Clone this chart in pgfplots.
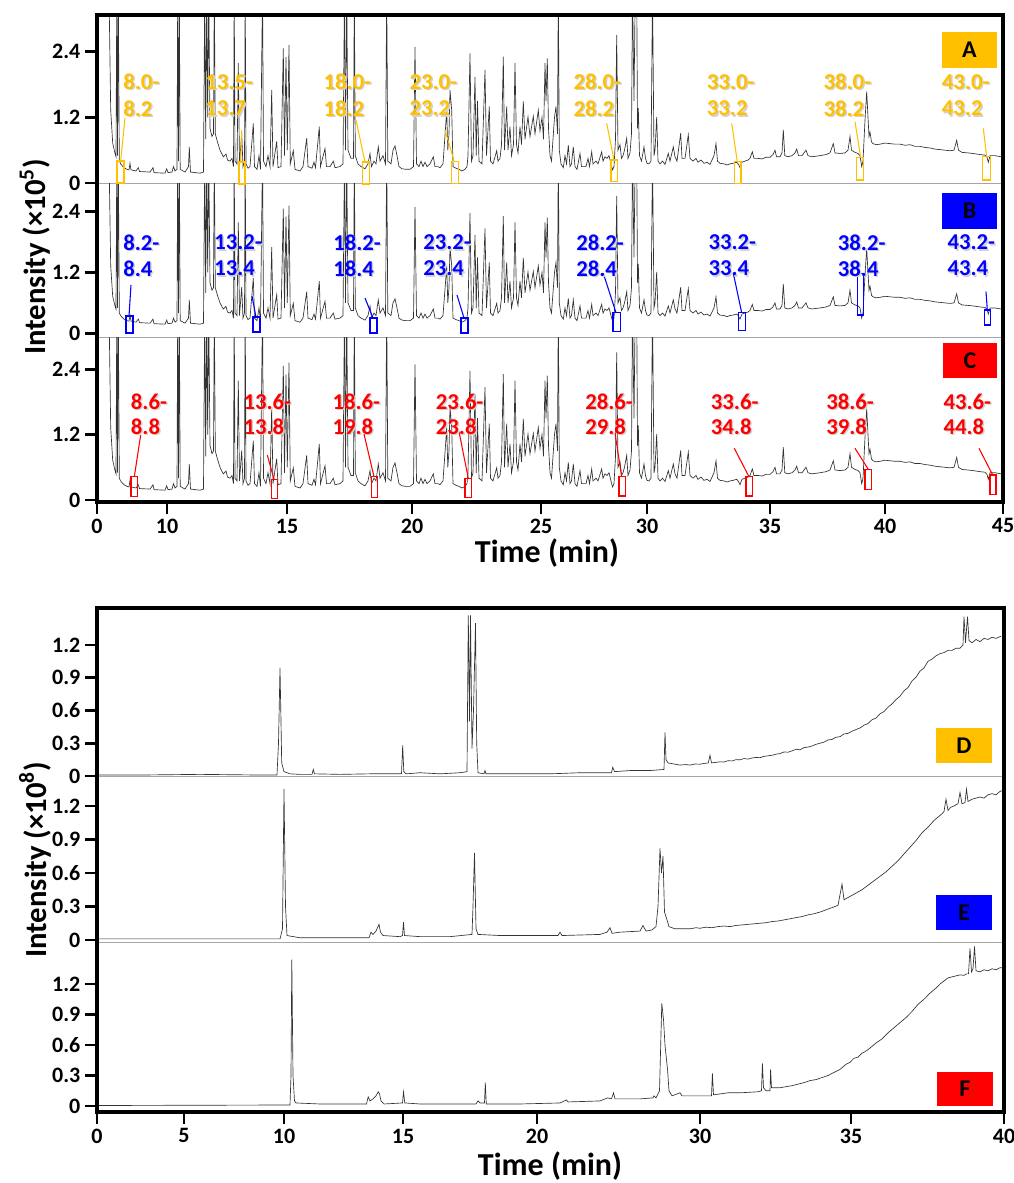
\documentclass[border=0pt]{standalone}
\usepackage{pgfplots}
\pgfplotsset{compat=1.18}
\usepackage{pgfplotstable}
\usepackage{fontspec}
\setmainfont{Carlito}
\definecolor{gold}{RGB}{255,192,0}
\definecolor{pblue}{RGB}{0,0,255}
\definecolor{pred}{RGB}{255,0,0}

\pgfplotstableread{
x y
109 3.5
110.7 1.33
112.7 0.73
115 0.54
116 0.48
116.8 3.5
117.5 0.5
118.3 3.5
119.3 0.40
121 0.34
124 0.28
127 0.25
129 0.24
130 0.36
131 0.24
136 0.22
138.3 0.28
139.5 0.21
150 0.20
153 0.28
154 0.19
165 0.18
166.7 0.26
168 0.19
172 0.2
173.5 0.30
175 0.22
177 0.25
177.7 3.5
178.5 0.4
179.3 3.5
180.2 0.25
185 0.2
188.5 0.3
189.3 0.66
190.5 0.2
200 0.18
203.5 0.2
204.7 3.5
205.7 0.8
206.7 3.5
207.7 1.2
208.7 3.5
210 1.0
212 0.85
213.5 0.9
214.3 3.5
215.3 0.9
217 0.78
220 0.6
223.3 0.48
226 0.53
227.5 0.42
230 0.40
232 0.45
233.5 0.3
234.2 3.5
235 0.4
237 0.35
238.3 2.19
239.5 0.35
241.7 0.91
243 0.3
244.5 0.4
245.2 3.5
246 0.35
248 0.27
250 0.3
253.3 1.09
254.5 0.3
257 0.25
259 0.5
260.5 0.25
262.5 3.5
263.5 0.4
266 0.3
268 0.5
270 0.3
271.7 1.70
273 0.3
276.7 0.76
278 0.28
281 0.3
283.3 2.46
284.5 0.5
286 2.3
287.3 0.6
289 2.52
290.3 0.35
293.3 0.59
295 0.25
300 0.22
303 0.3
306.7 0.82
308 0.3
312 0.27
314 0.38
315.5 0.28
319.3 1.03
320.5 0.3
325 0.63
326.5 0.3
330 0.3
333.3 0.40
335 0.28
340 0.3
343 0.35
344.5 3.5
345.5 0.6
346.7 3.5
348 0.6
351 0.45
353.5 0.45
354.3 3.5
355.3 0.5
358 0.35
361 0.3
365 0.26
368 0.35
370 0.54
371.5 0.3
374 0.4
376 0.35
378.3 0.66
380 0.4
383 0.5
385.5 0.35
386.7 3.5
387.8 0.4
391 0.35
393 0.6
395 0.68
397 0.5
399 0.3
402 0.26
406 0.25
410 0.25
413.5 0.3
415 2.49
416.5 0.35
419 0.30
421 0.4
423 0.3
425 0.38
427 0.3
430 0.35
433.3 0.48
435 0.3
438 0.3
440 0.28
443 0.35
445.5 1.0
446.7 1.33
447.8 0.6
449 0.9
450 1.70
451.7 1.33
453 0.3
456 0.27
459 0.25
462 0.22
465 0.25
467 0.3
468 0.5
470 2.37
471.5 0.4
473 0.5
475 1.94
476.2 0.5
477.5 1.5
479 0.4
482 0.35
485 2.07
486.5 0.5
489.3 1.40
490.5 0.4
493 0.35
496.7 0.59
498 0.4
500 0.45
501.5 0.7
503.3 2.31
504.5 0.6
506.7 1.40
508 0.6
510 1.03
511.5 0.5
513.5 0.7
515 2.19
516.5 0.7
518 0.55
520 1.03
521.5 0.7
523.3 1.49
525 0.8
528 1.21
530 0.85
533.3 1.22
535 0.9
538.3 1.33
540 0.95
542 1.2
543.5 0.8
545 2.19
546 1.5
547.3 2.28
548.5 1.0
550 0.5
551.5 0.4
553 0.8
554.5 1.2
556 1.40
557.5 0.9
558.3 3.5
559.3 0.6
561 0.35
563.3 0.28
565 0.5
566.5 0.35
568.3 0.69
570 0.3
571.5 0.35
573.3 0.66
575 0.3
577 0.25
580 0.54
581.5 0.3
584 0.3
586 0.3
588 0.45
589.5 0.3
591.7 0.57
593 0.35
596 0.4
598 0.35
601.7 0.57
603 0.4
605 0.48
607 0.45
609 0.5
611 0.35
612.5 0.24
614 0.3
615.5 0.8
616.7 2.71
618 0.6
620 0.7
621.5 0.45
623 0.5
624.5 0.6
626.7 0.82
628 0.45
630 0.55
631.5 0.9
632.5 3.5
634 1.5
635.2 3.5
636.7 3.5
637.5 1.0
638.3 1.37
639.5 0.5
641.5 0.4
644 0.66
645.5 0.45
647 0.36
649 0.35
651 0.4
652.5 3.5
654 0.5
655 0.6
656.7 1.21
658 0.4
660 0.35
662.5 0.40
665 0.34
668.3 0.54
670 0.4
673.3 0.66
675 0.48
677 0.4
680.7 0.91
682 0.45
685 0.45
688.3 0.88
690 0.45
693 0.4
696 0.45
698 0.38
701 0.42
704 0.36
707 0.38
710 0.34
712 0.42
714 0.5
716 0.72
717.5 0.4
720 0.36
724 0.35
727 0.33
730 0.35
733 0.36
736.7 0.38
738.5 0.34
740 0.28
742 0.38
745 0.4
748 0.42
750 0.45
752.3 0.57
754 0.45
758 0.45
762 0.44
766 0.47
770 0.47
773 0.52
775 0.6
776.5 0.48
780 0.48
782 0.55
783.3 0.97
784.8 0.5
788 0.48
792 0.5
795 0.55
796.7 0.62
798.5 0.5
802 0.5
806 0.6
808 0.5
812 0.48
820 0.5
826 0.52
830 0.55
833.3 0.72
835 0.55
840 0.54
845 0.55
848 0.6
850 0.85
851.5 0.6
855 0.56
858 0.54
860 0.5
861.7 0.30
863 0.4
865 1.15
866.7 1.67
868 1.2
869 0.85
870 0.93
871.5 0.75
873 0.72
876 0.7
880 0.71
885 0.73
890 0.72
895 0.71
900 0.71
905 0.69
910 0.70
915 0.67
920 0.67
925 0.65
930 0.64
935 0.62
940 0.61
945 0.60
950 0.59
954 0.6
956.7 0.78
958.5 0.6
962 0.56
968 0.55
973 0.54
980 0.52
985 0.51
987 0.47
988.3 0.38
990 0.5
995 0.5
1001 0.48
}\toptrace

\pgfplotstableread{
x y
97 0.01
150 0.01
200 0.015
250 0.01
277 0.01
278.5 0.3
280 0.99
281 0.5
281.7 0.12
284 0.04
290 0.02
300 0.015
312 0.015
313.3 0.06
314.5 0.02
340 0.015
370 0.02
401.5 0.02
402.7 0.28
403.8 0.04
406 0.02
420 0.03
440 0.02
460 0.03
467 0.04
468.3 1.47
469.5 0.5
470.5 1.47
472 0.25
473.5 0.6
475.5 1.40
476.7 0.3
478 0.03
484 0.02
485 0.05
486 0.02
520 0.02
550 0.02
580 0.03
600 0.03
611.5 0.03
612.7 0.08
614.5 0.04
630 0.05
650 0.05
664 0.06
665 0.40
666 0.15
668 0.12
680 0.10
686 0.105
690 0.10
695 0.11
700 0.108
704 0.115
708.3 0.12
710 0.19
711.5 0.12
716 0.125
720 0.13
724 0.128
728 0.14
732 0.138
736 0.15
740 0.148
744 0.16
748 0.155
752 0.165
756 0.17
760 0.168
764 0.18
768 0.185
772 0.19
776 0.2
780 0.205
784 0.22
788 0.218
792 0.23
796 0.245
800 0.24
804 0.26
808 0.265
812 0.275
816 0.29
820 0.30
824 0.31
828 0.33
832 0.335
836 0.355
840 0.36
844 0.385
848 0.39
852 0.41
856 0.425
860 0.44
864 0.465
868 0.48
872 0.515
876 0.53
880 0.57
884 0.59
888 0.63
892 0.66
896 0.70
900 0.73
904 0.78
908 0.81
912 0.87
916 0.905
920 0.96
924 0.99
928 1.05
932 1.07
936 1.10
940 1.12
944 1.13
948 1.15
952 1.15
956 1.17
960 1.17
963 1.2
964 1.46
965.5 1.22
967.5 1.46
969 1.24
972 1.22
976 1.25
980 1.23
984 1.26
988 1.25
992 1.27
996 1.26
1001 1.28
}\dtrace

\pgfplotstableread{
x y
97 0.01
280 0.01
282.5 0.1
284 1.35
285.5 0.3
287 0.04
300 0.02
340 0.02
369 0.02
371 0.07
373 0.05
376 0.08
379 0.14
380.5 0.07
383 0.04
400 0.03
402.5 0.04
403.5 0.16
404.5 0.04
420 0.03
450 0.03
472 0.05
473 0.3
474.5 0.78
476 0.1
478 0.05
500 0.04
530 0.04
558 0.04
560 0.07
562 0.04
600 0.05
607 0.07
610 0.11
612 0.06
620 0.07
640 0.08
643 0.13
646 0.08
652 0.09
656 0.12
658 0.3
660 0.82
661.5 0.6
663 0.75
664.5 0.25
667 0.18
669 0.12
675 0.10
690 0.10
696 0.11
700 0.105
706 0.115
712 0.11
718 0.12
724 0.125
730 0.12
736 0.13
742 0.135
748 0.14
754 0.145
760 0.15
766 0.155
772 0.165
778 0.17
784 0.18
790 0.19
796 0.2
802 0.21
808 0.225
814 0.235
820 0.25
826 0.27
832 0.29
838 0.31
842 0.5
844 0.36
850 0.39
856 0.42
862 0.45
868 0.49
874 0.53
880 0.57
886 0.61
892 0.66
898 0.71
904 0.77
910 0.83
916 0.89
922 0.96
928 1.01
934 1.07
938 1.1
942 1.13
944 1.15
946 1.26
948 1.16
951 1.19
954 1.2
958 1.22
960 1.32
962 1.22
965 1.23
966.5 1.35
968 1.24
972 1.26
976 1.27
980 1.28
984 1.27
988 1.3
992 1.31
996 1.30
1000 1.33
1003 1.34
}\etrace

\pgfplotstableread{
x y
97 0.005
290 0.01
291 0.3
291.8 1.44
293 0.3
294.5 0.05
296 0.03
320 0.02
366.5 0.02
368.2 0.09
370 0.05
373 0.07
376 0.1
378.2 0.14
379.5 0.12
381 0.05
384 0.02
402.5 0.03
403.5 0.14
404.8 0.03
420 0.02
440 0.02
476 0.02
478 0.05
480 0.03
484.5 0.03
485.3 0.23
486.3 0.02
520 0.02
560 0.03
566.5 0.06
568 0.04
600 0.05
607.6 0.08
611.5 0.07
613.5 0.13
615 0.07
640 0.07
653 0.08
654 0.1
656 0.08
659.5 0.15
661.8 1.01
663.5 0.85
665 0.6
667.6 0.35
669 0.15
672 0.1
680 0.13
682 0.1
700 0.1
711.5 0.1
712.4 0.32
713.5 0.11
728 0.13
740 0.13
758 0.14
761.5 0.15
762.4 0.42
763.5 0.18
766 0.15
770 0.15
770.6 0.36
771.5 0.18
780 0.18
786 0.19
792 0.2
798 0.215
804 0.23
810 0.25
816 0.26
822 0.28
828 0.30
834 0.33
840 0.36
846 0.41
850 0.43
854 0.47
858 0.48
862 0.52
866 0.54
870 0.57
876 0.62
882 0.66
888 0.72
894 0.77
900 0.82
906 0.87
912 0.93
918 1.0
924 1.05
930 1.11
936 1.16
940 1.2
944 1.23
948 1.26
952 1.27
956 1.28
960 1.29
964 1.285
966.5 1.30
968.5 1.3
970 1.55
971.5 1.32
973 1.35
974.5 1.57
976 1.33
980 1.32
984 1.34
988 1.33
992 1.35
996 1.34
1000 1.36
1003 1.36
}\ftrace

\pgfplotsset{
  panel/.style={
    scale only axis,
    axis line style={draw=gray!70, line width=0.6pt},
    tick align=outside,
    major tick length=9pt,
    tick style={line width=2pt, black},
    tick pos=left,
    tick label style={font=\fontsize{16.5}{18}\selectfont\bfseries},
    xtick=\empty,
  },
  toppanel/.style={panel, width=679.5pt, xmin=97, xmax=1003,
    ytick={0,1.2,2.4}, yticklabels={0,1.2,2.4}},
  botpanel/.style={panel, width=680.25pt, xmin=97, xmax=1004,
    ytick={0,0.3,0.6,0.9,1.2}, yticklabels={0,0.3,0.6,0.9,1.2}},
  trace/.style={line width=0.5pt, black!80, no markers},
}

\newcommand{\lab}[6]{%
  \node[anchor=west, inner sep=0, text=gray!35, font=\fontsize{17}{20}\selectfont\bfseries] at (#2+1.5,#3+1.5) {#5};
  \node[anchor=west, inner sep=0, text=gray!35, font=\fontsize{17}{20}\selectfont\bfseries] at (#2+1.5,#4+1.5) {#6};
  \node[anchor=west, inner sep=0, text=#1, font=\fontsize{17}{20}\selectfont\bfseries] at (#2,#3) {#5};
  \node[anchor=west, inner sep=0, text=#1, font=\fontsize{17}{20}\selectfont\bfseries] at (#2,#4) {#6};
}

\begin{document}
\begin{tikzpicture}
\useasboundingbox (0,0) rectangle (760.5pt,-887.25pt);

% ---------- top chart ----------
\begin{axis}[toppanel, at={(72.75pt,-137.25pt)}, anchor=south west,
  height=126pt, ymin=0, ymax=3.071]
\addplot[trace] table {\toptrace};
\end{axis}
\begin{axis}[toppanel, at={(72.75pt,-252.75pt)}, anchor=south west,
  height=115.5pt, ymin=-0.073, ymax=2.965]
\addplot[trace] table {\toptrace};
\end{axis}
\begin{axis}[toppanel, at={(72.75pt,-376.5pt)}, anchor=south west,
  height=123.75pt, ymin=-0.037, ymax=2.991,
  xtick={97,167,287,412,541,647,770,885,1003},
  xticklabels={0,10,15,20,25,30,35,40,45}]
\addplot[trace] table {\toptrace};
\end{axis}

% ---------- bottom chart ----------
\begin{axis}[botpanel, at={(72.75pt,-582pt)}, anchor=south west,
  height=126pt, ymin=0, ymax=1.538]
\addplot[trace] table {\dtrace};
\end{axis}
\begin{axis}[botpanel, at={(72.75pt,-706.5pt)}, anchor=south west,
  height=124.5pt, ymin=-0.018, ymax=1.468]
\addplot[trace] table {\etrace};
\end{axis}
\begin{axis}[botpanel, at={(72.75pt,-834pt)}, anchor=south west,
  height=127.5pt, ymin=-0.059, ymax=1.613,
  xtick={97,184,284,403,537,700,851,1004},
  xticklabels={0,5,10,15,20,30,35,40}]
\addplot[trace] table {\ftrace};
\end{axis}

\begin{scope}[x=0.75pt, y=-0.75pt]
% frames
\draw[line width=2.4pt] (97,15) rectangle (1003,502);
\draw[line width=2.4pt] (97,608) rectangle (1004,1112);

% axis titles
\node[rotate=90, font=\fontsize{23}{26}\selectfont\bfseries] at (35,257) {Intensity (×10\textsuperscript{5})};
\node[rotate=90, font=\fontsize{23}{26}\selectfont\bfseries] at (35,860) {Intensity (×10\textsuperscript{8})};
\node[font=\fontsize{24}{27}\selectfont\bfseries] at (547,553) {Time (min)};
\node[font=\fontsize{24}{27}\selectfont\bfseries] at (550,1166) {Time (min)};

% panel letter boxes
\fill[gold] (942,32) rectangle (997,68);
\node[font=\fontsize{18}{20}\selectfont\bfseries] at (969.5,50) {A};
\fill[pblue] (942,193) rectangle (997,229);
\node[font=\fontsize{18}{20}\selectfont\bfseries] at (969.5,211) {B};
\fill[pred] (943,343) rectangle (997,378);
\node[font=\fontsize{18}{20}\selectfont\bfseries] at (970,360.5) {C};
\fill[gold] (936,728) rectangle (992,763);
\node[font=\fontsize{18}{20}\selectfont\bfseries] at (964,745.5) {D};
\fill[pblue] (936,895) rectangle (992,930);
\node[font=\fontsize{18}{20}\selectfont\bfseries] at (964,912.5) {E};
\fill[pred] (937,1072) rectangle (993,1106);
\node[font=\fontsize{18}{20}\selectfont\bfseries] at (965,1089) {F};

% ---- panel A annotations ----
\begin{scope}[draw=gold, line width=0.8pt]
\draw (117,161) rectangle (124,183);
\draw (239,162) rectangle (245,184);
\draw (362.7,162) rectangle (369.3,184);
\draw (451.7,161.7) rectangle (458.3,183.3);
\draw (611,160) rectangle (617.7,181.7);
\draw (734.3,161.7) rectangle (741,183.3);
\draw (856.7,157.7) rectangle (863.3,180);
\draw (982.7,156.7) rectangle (990.7,180);
\draw (125,118) -- (120.7,161);
\draw (241.7,130) -- (240.7,162);
\draw (356,120) -- (365,162);
\draw (445,130) -- (454.3,161.7);
\draw (606.7,123.3) -- (614,160);
\draw (731.7,123.3) -- (737.3,161.7);
\draw (855,121.7) -- (860.7,157.7);
\draw (983.3,128.3) -- (986.7,156.7);
\end{scope}
\lab{gold}{123}{81.7}{108.3}{8.0-}{8.2}
\lab{gold}{205}{81.7}{108.3}{13.5-}{13.7}
\lab{gold}{323.3}{81.7}{108.3}{18.0-}{18.2}
\lab{gold}{409.3}{81.7}{108.3}{23.0-}{23.2}
\lab{gold}{573.3}{81.7}{108.3}{28.0-}{28.2}
\lab{gold}{706.7}{81.7}{108.3}{33.0-}{33.2}
\lab{gold}{823.3}{81.7}{108.3}{38.0-}{38.2}
\lab{gold}{941.7}{81.7}{108.3}{43.0-}{43.2}

% ---- panel B annotations ----
\begin{scope}[draw=pblue, line width=0.8pt]
\draw (126,316) rectangle (133,333);
\draw (253,317) rectangle (260,332);
\draw (370,318) rectangle (377,333);
\draw (461,318) rectangle (468,333);
\draw (613,312.7) rectangle (620.7,331.7);
\draw (738.3,312.7) rectangle (745.7,330.7);
\draw (857.3,273.3) rectangle (863.3,315);
\draw (984.3,310) rectangle (990.7,325);
\draw (131,285) -- (129,316);
\draw (252,296) -- (256,317);
\draw (365,298) -- (373,318);
\draw (457,295) -- (464,318);
\draw (603.3,273.3) -- (616,312.7);
\draw (733.3,273.3) -- (741.7,312.7);
\draw (986,291.7) -- (987.3,310);
\end{scope}
\lab{pblue}{123}{242.5}{268.5}{8.2-}{8.4}
\lab{pblue}{214}{242.5}{268.5}{13.2-}{13.4}
\lab{pblue}{333}{242.5}{268.5}{18.2-}{18.4}
\lab{pblue}{423}{242.5}{268.5}{23.2-}{23.4}
\lab{pblue}{576}{242.5}{268.5}{28.2-}{28.4}
\lab{pblue}{708.3}{242.5}{268.5}{33.2-}{33.4}
\lab{pblue}{837.7}{242.5}{268.5}{38.2-}{38.4}
\lab{pblue}{947.3}{242.5}{268.5}{43.2-}{43.4}

% ---- panel C annotations ----
\begin{scope}[draw=pred, line width=0.8pt]
\draw (131,476.7) rectangle (137.7,496.7);
\draw (271.7,479.3) rectangle (277.7,498.3);
\draw (371.7,476.7) rectangle (377.7,497.7);
\draw (465,478.3) rectangle (471.7,497.7);
\draw (619,476.7) rectangle (625.7,496);
\draw (746,476.7) rectangle (752.3,496);
\draw (865,469.3) rectangle (871.7,489.3);
\draw (990,475) rectangle (996,494.3);
\draw (140.7,435) -- (134.3,476.7);
\draw (267.3,455) -- (274,479.3);
\draw (364,434) -- (374,476.7);
\draw (459,431.7) -- (468.3,478.3);
\draw (615,433.3) -- (621.7,476.7);
\draw (734.3,448.3) -- (749,476.7);
\draw (855,448.3) -- (868.3,469.3);
\draw (979,448.3) -- (992.7,475);
\end{scope}
\lab{pred}{130.7}{401.7}{426.7}{8.6-}{8.8}
\lab{pred}{243.3}{401.7}{426.7}{13.6-}{13.8}
\lab{pred}{332.3}{401.7}{426.7}{18.6-}{19.8}
\lab{pred}{435.7}{401.7}{426.7}{23.6-}{23.8}
\lab{pred}{585}{401.7}{426.7}{28.6-}{29.8}
\lab{pred}{710.7}{401.7}{426.7}{33.6-}{34.8}
\lab{pred}{826}{401.7}{426.7}{38.6-}{39.8}
\lab{pred}{943.3}{401.7}{426.7}{43.6-}{44.8}
\end{scope}
\end{tikzpicture}
\end{document}
